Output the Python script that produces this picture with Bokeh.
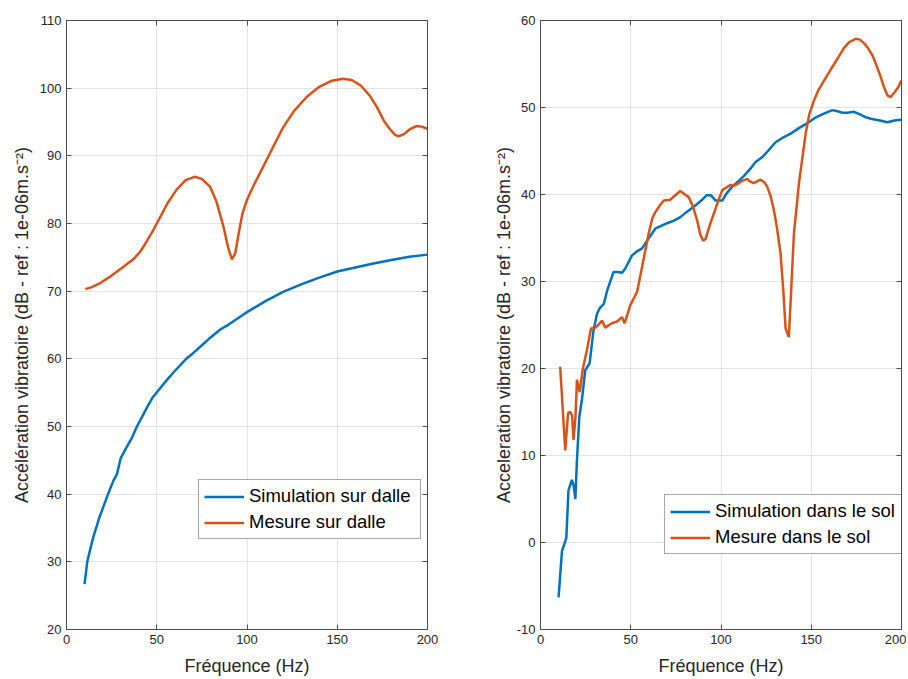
from bokeh.plotting import figure
from bokeh.layouts import row
from bokeh.models import Legend, LegendItem, LinearAxis, FixedTicker, Range1d
from bokeh.embed import file_html
from bokeh.resources import INLINE

# ---------------- data: left panel (dalle) ----------------
freq_sim_dalle = [10, 11.5, 13.1, 15, 16.8, 18, 20.5, 23, 26, 28, 30, 33, 36, 39, 42, 45, 48, 52, 56, 60,
                  66.7, 70, 75, 80, 85, 90, 95, 100, 110, 120, 130, 140, 150, 160, 170, 180, 190, 200]
val_sim_dalle = [26.7, 30.0, 31.8, 33.8, 35.3, 36.4, 38.2, 40.0, 42.0, 43.0, 45.3, 46.8, 48.2, 50.0, 51.5,
                 53.0, 54.4, 55.7, 57.0, 58.2, 60.1, 60.8, 62.0, 63.2, 64.3, 65.1, 66.0, 66.9, 68.5, 69.9,
                 71.0, 72.0, 72.9, 73.5, 74.1, 74.6, 75.1, 75.4]

freq_mes_dalle = [10.5, 14, 18.7, 25, 31, 37, 41, 44.5, 48, 52, 56, 61, 66, 71, 75, 79.6, 83, 87, 89.5,
                  91.6, 93.5, 95.3, 97.5, 100, 104, 109, 115, 120, 126, 133, 140, 147, 153, 158, 163,
                  168, 172, 176, 179, 182, 184, 187, 190, 194, 197, 200]
val_mes_dalle = [70.3, 70.6, 71.2, 72.3, 73.5, 74.7, 75.9, 77.4, 79.0, 81.0, 83.0, 85.0, 86.4, 86.9,
                 86.6, 85.4, 83.3, 79.5, 76.5, 74.7, 75.6, 78.4, 81.5, 83.5, 85.8, 88.4, 91.6, 94.2,
                 96.6, 98.7, 100.2, 101.1, 101.4, 101.2, 100.4, 98.9, 97.2, 95.1, 94.0, 93.1, 92.9,
                 93.2, 93.9, 94.4, 94.3, 94.0]

# ---------------- data: right panel (sol) ----------------
freq_sim_sol = [10, 11.9, 14.3, 15.5, 17.4, 18.4, 19.3, 20.2, 21.5, 23, 24.8, 27.2, 29.4, 31.3, 33, 35,
                37, 40.5, 43, 45.2, 47, 50.7, 53, 56.3, 60, 63.7, 66, 70.1, 74, 77.5, 81, 84.9, 89.6,
                92, 94.5, 97, 100.7, 103, 106.2, 110, 113, 116.4, 119, 122.9, 126, 130.2, 134, 138.6,
                143, 147.8, 152, 157, 161.7, 164, 167.3, 170, 173.7, 177, 180, 183, 188, 192.2, 196, 200]
val_sim_sol = [-6.3, -1.0, 0.5, 6.0, 7.2, 6.5, 5.0, 9.5, 14.4, 16.5, 19.8, 20.6, 24.4, 26.3, 27.0, 27.4,
               29.0, 31.1, 31.1, 31.0, 31.5, 33.0, 33.4, 33.8, 35.0, 36.1, 36.3, 36.7, 37.0, 37.4, 38.0,
               38.6, 39.4, 39.9, 39.9, 39.3, 39.3, 40.1, 40.9, 41.6, 42.2, 43.0, 43.7, 44.3, 45.0, 46.0,
               46.5, 47.0, 47.6, 48.2, 48.8, 49.3, 49.7, 49.6, 49.4, 49.4, 49.5, 49.2, 48.9, 48.7, 48.5,
               48.3, 48.5, 48.6]

freq_mes_sol = [10.9, 13.7, 15.3, 16.5, 17.5, 18.3, 19.4, 20.2, 21.7, 23.5, 25.7, 28, 30.4, 32, 34.1,
                35.9, 38, 39.6, 42.4, 45.2, 46.6, 49.8, 53.5, 56.3, 59.9, 62, 63.7, 66, 68.3, 72, 74,
                77.5, 80, 82.1, 84.5, 86.8, 88.5, 90.1, 91.5, 93.5, 96, 98.5, 100.7, 103, 105.3, 107,
                109.9, 112, 114.5, 116, 118.2, 120, 121.9, 124, 125.6, 127.5, 129.3, 131, 133, 134.5,
                135.8, 137.6, 139, 140.4, 143.2, 146.9, 149, 151.5, 154, 157.1, 160, 164.5, 168, 170.9,
                174.6, 177, 179.2, 181.5, 183.9, 186, 188.5, 190.5, 192.2, 194, 196, 197.8, 200]
val_mes_sol = [20.2, 10.6, 14.9, 15.0, 14.6, 11.8, 14.5, 18.7, 17.3, 20.0, 22.1, 24.6, 24.7, 25.0, 25.5,
               24.7, 25.0, 25.2, 25.4, 25.9, 25.2, 27.3, 28.8, 31.7, 35.5, 37.3, 38.0, 38.7, 39.3, 39.4,
               39.8, 40.4, 40.0, 39.7, 38.6, 37.0, 35.4, 34.7, 34.9, 36.3, 37.8, 39.3, 40.5, 40.8, 41.1,
               41.0, 41.3, 41.6, 41.8, 41.5, 41.3, 41.5, 41.7, 41.4, 40.9, 39.8, 38.2, 36.2, 33.2, 29.0,
               24.6, 23.6, 29.5, 35.5, 41.3, 47.0, 49.3, 50.8, 52.0, 53.1, 54.1, 55.6, 56.8, 57.5, 57.9,
               57.8, 57.4, 56.8, 56.0, 54.9, 53.5, 52.2, 51.4, 51.2, 51.7, 52.2, 53.1]

x_ticks = [0, 50, 100, 150, 200]
y_ticks_dalle = [20, 30, 40, 50, 60, 70, 80, 90, 100, 110]
y_ticks_sol = [-10, 0, 10, 20, 30, 40, 50, 60]

labels_dalle = ["Simulation sur dalle", "Mesure sur dalle"]
labels_sol = ["Simulation dans le sol", "Mesure dans le sol"]
xlabel = "Fréquence (Hz)"
ylabel_dalle = "Accélération vibratoire (dB - ref : 1e-06m.s\u207b\u00b2)"
ylabel_sol = "Acceleration vibratoire (dB - ref : 1e-06m.s\u207b\u00b2)"

BLUE = "#0072BD"
ORANGE = "#D95319"
AX = "#4d4d4d"
TXT = "#262626"
FONT = "Liberation Sans"


def style_axis(ax, ticks, show_labels=True):
    ax.ticker = FixedTicker(ticks=ticks)
    ax.major_tick_in = 5
    ax.major_tick_out = 0
    ax.minor_tick_line_color = None
    ax.axis_line_color = AX
    ax.major_tick_line_color = AX
    ax.major_label_text_font = FONT
    if show_labels:
        ax.major_label_text_color = TXT
        ax.major_label_text_font_size = "13px"
        ax.major_label_standoff = 5
        ax.major_label_overrides = {t: ("-%d" % -t if t < 0 else "%d" % t) for t in ticks}
    else:
        ax.major_label_text_color = None
        ax.major_label_text_font_size = "1px"
        ax.major_label_standoff = 0
    ax.axis_label_text_font = FONT
    ax.axis_label_text_font_style = "normal"
    ax.axis_label_text_font_size = "18px"
    ax.axis_label_text_color = TXT


def make_fig(width, mbl, mbr, yrange, yticks, ylabel, ylabel_standoff,
             fs, vs, fm, vm, labels, legend_loc, legend_label_width):
    p = figure(width=width, height=678, output_backend="svg", toolbar_location=None,
               x_range=Range1d(0, 200), y_range=Range1d(*yrange),
               min_border_left=mbl, min_border_right=mbr, min_border_top=20, min_border_bottom=48)
    p.outline_line_color = AX
    p.background_fill_color = "white"
    p.border_fill_color = "white"

    style_axis(p.xaxis[0], x_ticks)
    style_axis(p.yaxis[0], yticks)
    p.xaxis[0].axis_label = xlabel
    p.xaxis[0].axis_label_standoff = 9
    p.yaxis[0].axis_label = ylabel
    p.yaxis[0].axis_label_standoff = ylabel_standoff

    top = LinearAxis()
    style_axis(top, x_ticks, show_labels=False)
    p.add_layout(top, "above")
    right = LinearAxis()
    style_axis(right, yticks, show_labels=False)
    p.add_layout(right, "right")

    p.xgrid.ticker = FixedTicker(ticks=x_ticks)
    p.ygrid.ticker = FixedTicker(ticks=yticks)
    p.grid.grid_line_color = "#e3e3e3"
    p.grid.grid_line_width = 1

    r1 = p.line(fs, vs, line_color=BLUE, line_width=2.5)
    r2 = p.line(fm, vm, line_color=ORANGE, line_width=2.5)

    leg = Legend(items=[LegendItem(label=labels[0], renderers=[r1]),
                        LegendItem(label=labels[1], renderers=[r2])],
                 location=legend_loc)
    leg.label_text_font = FONT
    leg.label_text_font_size = "18.5px"
    leg.label_text_color = "#000000"
    leg.glyph_width = 40
    leg.glyph_height = 21
    leg.label_height = 21
    leg.label_width = legend_label_width
    leg.label_standoff = 5
    leg.spacing = 4
    leg.padding = 5
    leg.margin = 0
    leg.border_line_color = AX
    leg.border_line_width = 1
    leg.background_fill_color = "white"
    leg.background_fill_alpha = 1
    p.add_layout(leg, "center")
    return p


p1 = make_fig(470, 66, 43, (20, 110), y_ticks_dalle, ylabel_dalle, 5,
              freq_sim_dalle, val_sim_dalle, freq_mes_dalle, val_mes_dalle, labels_dalle, (132, 90), 166)
p2 = make_fig(436, 70, 5, (-10, 60), y_ticks_sol, ylabel_sol, 0,
              freq_sim_sol, val_sim_sol, freq_mes_sol, val_mes_sol, labels_sol, (124, 75), 186)

layout = row(p1, p2)
open("out.html", "w").write(file_html(layout, INLINE))
